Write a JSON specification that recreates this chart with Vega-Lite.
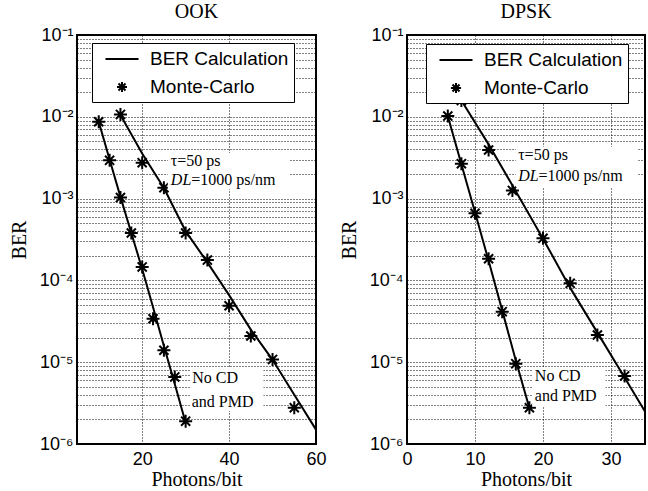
{
  "$schema": "https://vega.github.io/schema/vega-lite/v6.json",
  "padding": {"left": 8, "top": 1, "right": 2, "bottom": 0},
  "spacing": 10,
  "datasets": {
    "mc": [
      {"panel": "OOK", "series": "Monte-Carlo", "x": 10, "ber": 0.0087},
      {"panel": "OOK", "series": "Monte-Carlo", "x": 12.5, "ber": 0.00294},
      {"panel": "OOK", "series": "Monte-Carlo", "x": 15, "ber": 0.00103},
      {"panel": "OOK", "series": "Monte-Carlo", "x": 17.5, "ber": 0.00038},
      {"panel": "OOK", "series": "Monte-Carlo", "x": 20, "ber": 0.000146},
      {"panel": "OOK", "series": "Monte-Carlo", "x": 22.5, "ber": 0.000034},
      {"panel": "OOK", "series": "Monte-Carlo", "x": 25, "ber": 0.000014},
      {"panel": "OOK", "series": "Monte-Carlo", "x": 27.5, "ber": 0.0000066},
      {"panel": "OOK", "series": "Monte-Carlo", "x": 30, "ber": 0.0000019},
      {"panel": "OOK", "series": "Monte-Carlo", "x": 15, "ber": 0.0107},
      {"panel": "OOK", "series": "Monte-Carlo", "x": 20, "ber": 0.00275},
      {"panel": "OOK", "series": "Monte-Carlo", "x": 25, "ber": 0.00136},
      {"panel": "OOK", "series": "Monte-Carlo", "x": 30, "ber": 0.00038},
      {"panel": "OOK", "series": "Monte-Carlo", "x": 35, "ber": 0.000177},
      {"panel": "OOK", "series": "Monte-Carlo", "x": 40, "ber": 0.000049},
      {"panel": "OOK", "series": "Monte-Carlo", "x": 45, "ber": 0.0000209},
      {"panel": "OOK", "series": "Monte-Carlo", "x": 50, "ber": 0.0000108},
      {"panel": "OOK", "series": "Monte-Carlo", "x": 55, "ber": 0.00000278},
      {"panel": "DPSK", "series": "Monte-Carlo", "x": 6, "ber": 0.0102},
      {"panel": "DPSK", "series": "Monte-Carlo", "x": 8, "ber": 0.00267},
      {"panel": "DPSK", "series": "Monte-Carlo", "x": 10, "ber": 0.00066},
      {"panel": "DPSK", "series": "Monte-Carlo", "x": 12, "ber": 0.000184},
      {"panel": "DPSK", "series": "Monte-Carlo", "x": 14, "ber": 0.0000415},
      {"panel": "DPSK", "series": "Monte-Carlo", "x": 16, "ber": 0.0000096},
      {"panel": "DPSK", "series": "Monte-Carlo", "x": 18, "ber": 0.00000278},
      {"panel": "DPSK", "series": "Monte-Carlo", "x": 8, "ber": 0.0158},
      {"panel": "DPSK", "series": "Monte-Carlo", "x": 12, "ber": 0.00393},
      {"panel": "DPSK", "series": "Monte-Carlo", "x": 15.5, "ber": 0.00126},
      {"panel": "DPSK", "series": "Monte-Carlo", "x": 20, "ber": 0.000327},
      {"panel": "DPSK", "series": "Monte-Carlo", "x": 24, "ber": 0.000092},
      {"panel": "DPSK", "series": "Monte-Carlo", "x": 28, "ber": 0.0000215},
      {"panel": "DPSK", "series": "Monte-Carlo", "x": 32, "ber": 0.0000068}
    ],
    "calc": [
      {"panel": "OOK", "curve": "A", "x": 10, "ber": 0.0087},
      {"panel": "OOK", "curve": "A", "x": 12.5, "ber": 0.003},
      {"panel": "OOK", "curve": "A", "x": 15, "ber": 0.00105},
      {"panel": "OOK", "curve": "A", "x": 17.5, "ber": 0.00038},
      {"panel": "OOK", "curve": "A", "x": 20, "ber": 0.000138},
      {"panel": "OOK", "curve": "A", "x": 22.5, "ber": 0.000047},
      {"panel": "OOK", "curve": "A", "x": 25, "ber": 0.0000158},
      {"panel": "OOK", "curve": "A", "x": 27.5, "ber": 0.0000054},
      {"panel": "OOK", "curve": "A", "x": 30, "ber": 0.00000182},
      {"panel": "OOK", "curve": "B", "x": 15, "ber": 0.0105},
      {"panel": "OOK", "curve": "B", "x": 20, "ber": 0.00355},
      {"panel": "OOK", "curve": "B", "x": 25, "ber": 0.00135},
      {"panel": "OOK", "curve": "B", "x": 30, "ber": 0.0004},
      {"panel": "OOK", "curve": "B", "x": 35, "ber": 0.000166},
      {"panel": "OOK", "curve": "B", "x": 40, "ber": 0.000066},
      {"panel": "OOK", "curve": "B", "x": 45, "ber": 0.000025},
      {"panel": "OOK", "curve": "B", "x": 50, "ber": 0.0000107},
      {"panel": "OOK", "curve": "B", "x": 55, "ber": 0.000004},
      {"panel": "OOK", "curve": "B", "x": 60, "ber": 0.0000015},
      {"panel": "DPSK", "curve": "A", "x": 6, "ber": 0.0102},
      {"panel": "DPSK", "curve": "A", "x": 8, "ber": 0.00263},
      {"panel": "DPSK", "curve": "A", "x": 10, "ber": 0.00068},
      {"panel": "DPSK", "curve": "A", "x": 12, "ber": 0.000174},
      {"panel": "DPSK", "curve": "A", "x": 14, "ber": 0.000043},
      {"panel": "DPSK", "curve": "A", "x": 16, "ber": 0.0000105},
      {"panel": "DPSK", "curve": "A", "x": 18, "ber": 0.00000275},
      {"panel": "DPSK", "curve": "B", "x": 8, "ber": 0.0158},
      {"panel": "DPSK", "curve": "B", "x": 12, "ber": 0.0046},
      {"panel": "DPSK", "curve": "B", "x": 16, "ber": 0.00123},
      {"panel": "DPSK", "curve": "B", "x": 20, "ber": 0.000324},
      {"panel": "DPSK", "curve": "B", "x": 24, "ber": 0.000081},
      {"panel": "DPSK", "curve": "B", "x": 28, "ber": 0.000023},
      {"panel": "DPSK", "curve": "B", "x": 32, "ber": 0.0000065},
      {"panel": "DPSK", "curve": "B", "x": 35, "ber": 0.0000025}
    ],
    "boxes": [
      {"panel": "OOK", "x": 25.9, "x2": 54, "ber": 0.0036, "ber2": 0.0013},
      {"panel": "OOK", "x": 31.2, "x2": 47.9, "ber": 0.0000086, "ber2": 0.00000253},
      {"panel": "DPSK", "x": 16, "x2": 34, "ber": 0.0043, "ber2": 0.00138},
      {"panel": "DPSK", "x": 18.4, "x2": 29.2, "ber": 0.0000087, "ber2": 0.0000029}
    ],
    "notes": [
      {"panel": "OOK", "x": 26.6, "ber": 0.0025, "label": "τ=50 ps"},
      {"panel": "OOK", "x": 31.3, "ber": 0.00145, "label": "=1000 ps/nm"},
      {"panel": "OOK", "x": 31.5, "ber": 0.0000056, "label": "No CD"},
      {"panel": "OOK", "x": 31.4, "ber": 0.00000286, "label": "and PMD"},
      {"panel": "DPSK", "x": 16.35, "ber": 0.00295, "label": "τ=50 ps"},
      {"panel": "DPSK", "x": 19.35, "ber": 0.00164, "label": "=1000 ps/nm"},
      {"panel": "DPSK", "x": 18.8, "ber": 0.0000059, "label": "No CD"},
      {"panel": "DPSK", "x": 18.8, "ber": 0.00000336, "label": "and PMD"}
    ],
    "italicNotes": [
      {"panel": "OOK", "x": 26.6, "ber": 0.00145, "label": "DL"},
      {"panel": "DPSK", "x": 16.35, "ber": 0.00164, "label": "DL"}
    ]
  },
  "hconcat": [
    {
      "title": {"text": "OOK"},
      "width": 239,
      "height": 409,
      "encoding": {
        "x": {"field": "x", "type": "quantitative",
          "scale": {"domain": [5, 60], "nice": false, "zero": false},
          "axis": {"values": [20, 40, 60], "title": "Photons/bit"}},
        "y": {"field": "ber", "type": "quantitative",
          "scale": {"type": "log", "domain": [0.000001, 0.1], "nice": false},
          "axis": {"title": "BER",
            "values": [0.000001,0.000002,0.000003,0.000004,0.000005,0.000006,0.000007,0.000008,0.000009,0.00001,0.00002,0.00003,0.00004,0.00005,0.00006,0.00007,0.00008,0.00009,0.0001,0.0002,0.0003,0.0004,0.0005,0.0006,0.0007,0.0008,0.0009,0.001,0.002,0.003,0.004,0.005,0.006,0.007,0.008,0.009,0.01,0.02,0.03,0.04,0.05,0.06,0.07,0.08,0.09,0.1]}}
      },
      "layer": [
        {"data": {"name": "calc"}, "transform": [{"filter": "datum.panel == 'OOK'"}],
         "mark": {"type": "line", "color": "black", "strokeWidth": 2},
         "encoding": {"detail": {"field": "curve"}}},
        {"data": {"name": "mc"}, "transform": [{"filter": "datum.panel == 'OOK'"}],
         "mark": {"type": "point", "filled": false, "color": "black", "strokeWidth": 2, "size": 676, "opacity": 1},
         "encoding": {"shape": {"field": "series", "type": "nominal",
           "scale": {"domain": ["BER Calculation", "Monte-Carlo"], "range": ["M-1.65,0H1.65", "M-0.5,0H0.5M0,-0.5V0.5M-0.35,-0.35L0.35,0.35M-0.35,0.35L0.35,-0.35"]},
           "legend": {"orient": "none", "legendX": 15, "legendY": 8, "title": null, "fillColor": "white", "strokeColor": "black", "padding": 5, "symbolSize": 400, "symbolOffset": 14, "labelOffset": 17, "rowPadding": 7, "labelFont": "Liberation Sans", "labelFontSize": 19, "labelColor": "black", "symbolStrokeWidth": 2, "symbolStrokeColor": "black", "symbolFillColor": "transparent",
             "encode": {"legend": {"update": {"strokeWidth": {"value": 1.5}}}}}}}},
        {"data": {"name": "boxes"}, "transform": [{"filter": "datum.panel == 'OOK'"}],
         "mark": {"type": "rect", "fill": "white"},
         "encoding": {"x2": {"field": "x2"}, "y2": {"field": "ber2"}}},
        {"data": {"name": "notes"}, "transform": [{"filter": "datum.panel == 'OOK'"}],
         "mark": {"type": "text", "align": "left", "baseline": "alphabetic", "font": "Liberation Serif", "fontSize": 16, "color": "black"},
         "encoding": {"text": {"field": "label"}}},
        {"data": {"name": "italicNotes"}, "transform": [{"filter": "datum.panel == 'OOK'"}],
         "mark": {"type": "text", "align": "left", "baseline": "alphabetic", "font": "Liberation Serif", "fontStyle": "italic", "fontSize": 16, "color": "black"},
         "encoding": {"text": {"field": "label"}}}
      ]
    },
    {
      "title": {"text": "DPSK"},
      "width": 238,
      "height": 409,
      "encoding": {
        "x": {"field": "x", "type": "quantitative",
          "scale": {"domain": [0, 35], "nice": false, "zero": false},
          "axis": {"values": [0, 10, 20, 30], "title": "Photons/bit"}},
        "y": {"field": "ber", "type": "quantitative",
          "scale": {"type": "log", "domain": [0.000001, 0.1], "nice": false},
          "axis": {"title": "BER",
            "values": [0.000001,0.000002,0.000003,0.000004,0.000005,0.000006,0.000007,0.000008,0.000009,0.00001,0.00002,0.00003,0.00004,0.00005,0.00006,0.00007,0.00008,0.00009,0.0001,0.0002,0.0003,0.0004,0.0005,0.0006,0.0007,0.0008,0.0009,0.001,0.002,0.003,0.004,0.005,0.006,0.007,0.008,0.009,0.01,0.02,0.03,0.04,0.05,0.06,0.07,0.08,0.09,0.1]}}
      },
      "layer": [
        {"data": {"name": "calc"}, "transform": [{"filter": "datum.panel == 'DPSK'"}],
         "mark": {"type": "line", "color": "black", "strokeWidth": 2},
         "encoding": {"detail": {"field": "curve"}}},
        {"data": {"name": "mc"}, "transform": [{"filter": "datum.panel == 'DPSK'"}],
         "mark": {"type": "point", "filled": false, "color": "black", "strokeWidth": 2, "size": 676, "opacity": 1},
         "encoding": {"shape": {"field": "series", "type": "nominal",
           "scale": {"domain": ["BER Calculation", "Monte-Carlo"], "range": ["M-1.65,0H1.65", "M-0.5,0H0.5M0,-0.5V0.5M-0.35,-0.35L0.35,0.35M-0.35,0.35L0.35,-0.35"]},
           "legend": {"orient": "none", "legendX": 19, "legendY": 9, "title": null, "fillColor": "white", "strokeColor": "black", "padding": 5, "symbolSize": 400, "symbolOffset": 14, "labelOffset": 17, "rowPadding": 7, "labelFont": "Liberation Sans", "labelFontSize": 19, "labelColor": "black", "symbolStrokeWidth": 2, "symbolStrokeColor": "black", "symbolFillColor": "transparent",
             "encode": {"legend": {"update": {"strokeWidth": {"value": 1.5}}}}}}}},
        {"data": {"name": "boxes"}, "transform": [{"filter": "datum.panel == 'DPSK'"}],
         "mark": {"type": "rect", "fill": "white"},
         "encoding": {"x2": {"field": "x2"}, "y2": {"field": "ber2"}}},
        {"data": {"name": "notes"}, "transform": [{"filter": "datum.panel == 'DPSK'"}],
         "mark": {"type": "text", "align": "left", "baseline": "alphabetic", "font": "Liberation Serif", "fontSize": 16, "color": "black"},
         "encoding": {"text": {"field": "label"}}},
        {"data": {"name": "italicNotes"}, "transform": [{"filter": "datum.panel == 'DPSK'"}],
         "mark": {"type": "text", "align": "left", "baseline": "alphabetic", "font": "Liberation Serif", "fontStyle": "italic", "fontSize": 16, "color": "black"},
         "encoding": {"text": {"field": "label"}}}
      ]
    }
  ],
  "resolve": {
    "scale": {"x": "independent", "y": "independent", "shape": "independent"},
    "legend": {"shape": "independent"}
  },
  "config": {
    "background": "white",
    "view": {"stroke": "black", "strokeWidth": 2},
    "title": {"font": "Liberation Serif", "fontSize": 20, "fontWeight": "normal", "color": "black", "offset": 0},
    "axis": {
      "grid": true, "gridColor": "black", "gridOpacity": 1, "gridDash": [1, 2], "gridWidth": 1,
      "domain": false, "ticks": false,
      "labelFont": "Liberation Sans", "labelFontSize": 18, "labelColor": "black",
      "labelOverlap": false, "labelFlush": false,
      "titleFont": "Liberation Serif", "titleFontSize": 20, "titleFontWeight": "normal", "titleColor": "black"
    },
    "axisY": {
      "labelPadding": 4, "titlePadding": 10,
      "labelExpr": "datum.value == 0.1 ? '10⁻¹' : datum.value == 0.01 ? '10⁻²' : datum.value == 0.001 ? '10⁻³' : datum.value == 0.0001 ? '10⁻⁴' : datum.value == 0.00001 ? '10⁻⁵' : datum.value == 0.000001 ? '10⁻⁶' : ''"
    },
    "axisX": {"labelPadding": 6, "titlePadding": 1}
  }
}
